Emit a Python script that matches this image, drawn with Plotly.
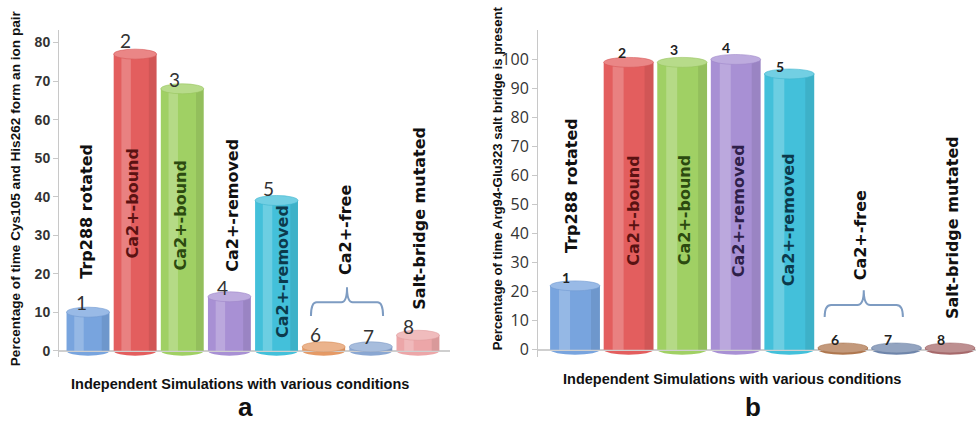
import plotly.graph_objects as go

# ---------------- data ----------------
categories = [1, 2, 3, 4, 5, 6, 7, 8]
values_a = [10, 77, 68, 14, 39, 1, 1, 4]
values_b = [22, 99, 99, 100, 95, 0.6, 0.6, 0.6]
bar_names = ["Trp288 rotated", "Ca2+-bound", "Ca2+-bound", "Ca2+-removed",
             "Ca2+-removed", "Ca2+-free", "", "Salt-bridge mutated"]
yticks_a = [0, 10, 20, 30, 40, 50, 60, 70, 80]
yticks_b = [0, 10, 20, 30, 40, 50, 60, 70, 80, 90, 100]
ytitle_a = "Percentage of time Cys105 and His262 form an ion pair"
ytitle_b = "Percentage of time Arg94-Glu323 salt bridge is present"
xtitle = "Independent Simulations with various conditions"

# ---------------- styles ----------------
colors_a = ["#78a4de", "#e35e5e", "#a0d064", "#a890d4", "#43c0da", "#e59a66", "#8aa7d2", "#eca6a8"]
colors_b = ["#78a4de", "#e35e5e", "#a0d064", "#a890d4", "#43c0da", "#b0784f", "#6f86ac", "#a86a6c"]
text_cols = ["#111111", "#5a1212", "#2c4a10", "#111111", "#0c3a4c", "#111111", "#111111", "#111111"]
text_cols_b = ["#111111", "#5a1212", "#2c4a10", "#2e1f4a", "#0c3a4c", "#111111", "#111111", "#111111"]

W, H = 976, 427
ydom = [1 - 360 / H, 1 - 30 / H]


def lighten(hx, f):
    r, g, b = int(hx[1:3], 16), int(hx[3:5], 16), int(hx[5:7], 16)
    r, g, b = [int(c + (255 - c) * f) for c in (r, g, b)]
    return "#%02x%02x%02x" % (r, g, b)


def darken(hx, f):
    r, g, b = int(hx[1:3], 16), int(hx[3:5], 16), int(hx[5:7], 16)
    r, g, b = [int(c * (1 - f)) for c in (r, g, b)]
    return "#%02x%02x%02x" % (r, g, b)


fig = go.Figure()
shapes = []
annots = []

panels = [
    dict(vals=values_a, cols=colors_a, xa="x", ya="y", width=0.91, cap=1.3),
    dict(vals=values_b, cols=colors_b, xa="x2", ya="y2", width=0.93, cap=1.7),
]

for p in panels:
    w = p["width"]
    fig.add_trace(go.Bar(x=categories, y=p["vals"], width=w,
                         marker=dict(color=p["cols"], line=dict(width=0)),
                         xaxis=p["xa"], yaxis=p["ya"], showlegend=False,
                         hoverinfo="x+y"))
    # highlight stripe
    fig.add_trace(go.Bar(x=categories, y=p["vals"], width=w * 0.22, offset=-w * 0.32,
                         marker=dict(color="rgba(255,255,255,0.22)", line=dict(width=0)),
                         xaxis=p["xa"], yaxis=p["ya"], showlegend=False, hoverinfo="skip"))
    # dark right edge
    fig.add_trace(go.Bar(x=categories, y=p["vals"], width=w * 0.18, offset=w * 0.32,
                         marker=dict(color="rgba(0,0,0,0.08)", line=dict(width=0)),
                         xaxis=p["xa"], yaxis=p["ya"], showlegend=False, hoverinfo="skip"))
    for c, v, col in zip(categories, p["vals"], p["cols"]):
        shapes.append(dict(type="circle", xref=p["xa"], yref=p["ya"], layer="below",
                           x0=c - w / 2, x1=c + w / 2, y0=-p["cap"], y1=p["cap"],
                           fillcolor=col, line=dict(width=0)))
        shapes.append(dict(type="circle", xref=p["xa"], yref=p["ya"], layer="above",
                           x0=c - w / 2, x1=c + w / 2, y0=v - p["cap"], y1=v + p["cap"],
                           fillcolor=lighten(col, 0.25), line=dict(width=0.6, color=darken(col, 0.05))))

# ---- bar number labels ----
num_font_a = dict(family="Lato, Open Sans, sans-serif", size=19, color="#333333")
num_pos_a = [(1 - 0.13, 12.6), (2 - 0.2, 80.5), (3 - 0.17, 70.5), (4 - 0.15, 16.5),
             (5 - 0.17, 42), (6 - 0.17, 4.2), (7 - 0.05, 3.7), (8 - 0.2, 6.4)]
for c, (xx, yy) in zip(categories, num_pos_a):
    annots.append(dict(text=str(c), x=xx, y=yy, xref="x", yref="y", showarrow=False,
                       font=num_font_a))
num_font_b = dict(family="Lato, Open Sans, sans-serif", size=14, color="#222222", weight="bold")
num_pos_b = [(1 - 0.17, 25), (2 - 0.13, 102.4), (3 - 0.15, 103.4), (4 - 0.19, 104),
             (5 - 0.17, 97.6), (6 - 0.15, 3.4), (7 - 0.15, 3.4), (8 - 0.17, 3.4)]
for c, (xx, yy) in zip(categories, num_pos_b):
    annots.append(dict(text=str(c), x=xx, y=yy, xref="x2", yref="y2", showarrow=False,
                       font=num_font_b))

# ---- rotated condition labels ----
lab_pos_a = [(0.98, 36.1), (1.94, 38.3), (2.96, 35.2), (4.06, 37.7),
             (5.13, 20.6), (6.45, 31.3), None, (8.04, 34.5)]
lab_pos_b = [(1 - 0.07, 56.5), (2 + 0.09, 48), (3 + 0.05, 48), (4 + 0.04, 48),
             (5, 44.7), (6.32, 39.4), None, (8 + 0.06, 42)]
lab_family = "DejaVu Sans, Open Sans, sans-serif"
for name, pa, pb, ca, cb in zip(bar_names, lab_pos_a, lab_pos_b, text_cols, text_cols_b):
    if not name:
        continue
    annots.append(dict(text=name, x=pa[0], y=pa[1], xref="x", yref="y", showarrow=False,
                       textangle=-90, xanchor="center", yanchor="middle",
                       font=dict(family=lab_family, size=16, color=ca, weight="bold")))
    annots.append(dict(text=name, x=pb[0], y=pb[1], xref="x2", yref="y2", showarrow=False,
                       textangle=-90, xanchor="center", yanchor="middle",
                       font=dict(family=lab_family, size=16, color=cb, weight="bold")))

# ---- braces ----
def brace(xr, yr, x0, x1, yb, yh, yp):
    xm = (x0 + x1) / 2
    d = 0.12
    path = (f"M {x0},{yb} Q {x0},{yh} {x0 + d},{yh} L {xm - d},{yh} Q {xm},{yh} {xm},{yp} "
            f"M {xm},{yp} Q {xm},{yh} {xm + d},{yh} L {x1 - d},{yh} Q {x1},{yh} {x1},{yb}")
    return dict(type="path", xref=xr, yref=yr, path=path,
                line=dict(color="#7e9cc2", width=2))

shapes.append(brace("x", "y", 5.73, 7.26, 9.0, 12.6, 16.5))
shapes.append(brace("x2", "y2", 5.66, 7.12, 11.3, 15.4, 20.5))

# ---- axis titles and panel letters ----
tfam = "Liberation Sans, Arial, sans-serif"


def pa_note(text, px, py, size, angle=0, fam=tfam):
    return dict(text=text, x=px / W, y=1 - py / H, xref="paper", yref="paper",
                showarrow=False, textangle=angle, xanchor="center", yanchor="middle",
                font=dict(family=fam, size=size, color="#111111", weight="bold"))


annots += [
    pa_note(ytitle_a, 15, 190, 13.6, -90),
    pa_note(ytitle_b, 497, 180, 13.2, -90),
    pa_note(xtitle, 240, 388, 14.5),
    pa_note(xtitle, 732, 383, 14.5),
    pa_note("a", 245, 411, 26),
    pa_note("b", 753, 411, 26),
]

axis_common = dict(showgrid=False, showline=True, linecolor="#c8c8c8", linewidth=1,
                   ticks="outside", tickcolor="#c8c8c8", ticklen=5, zeroline=True,
                   zerolinecolor="#cfcfcf", zerolinewidth=1.5)

fig.update_layout(
    width=W, height=H, margin=dict(l=0, r=0, t=0, b=0),
    paper_bgcolor="white", plot_bgcolor="white",
    barmode="overlay", showlegend=False,
    shapes=shapes, annotations=annots,
    xaxis=dict(domain=[59 / W, 450 / W], range=[0.385, 8.68], visible=False, anchor="y"),
    yaxis=dict(domain=ydom, range=[-1.54, 83.34], tickvals=yticks_a, anchor="x",
               tickfont=dict(family=tfam, size=14, color="#333333", weight="bold"),
               **axis_common),
    xaxis2=dict(domain=[538 / W, 1.0], range=[0.309, 8.485], visible=False, anchor="y2"),
    yaxis2=dict(domain=ydom, range=[-2.39, 110.24], tickvals=yticks_b, anchor="x2",
                tickfont=dict(family="Open Sans, sans-serif", size=16, color="#333333"),
                **axis_common),
)

fig.write_html("out.html")
